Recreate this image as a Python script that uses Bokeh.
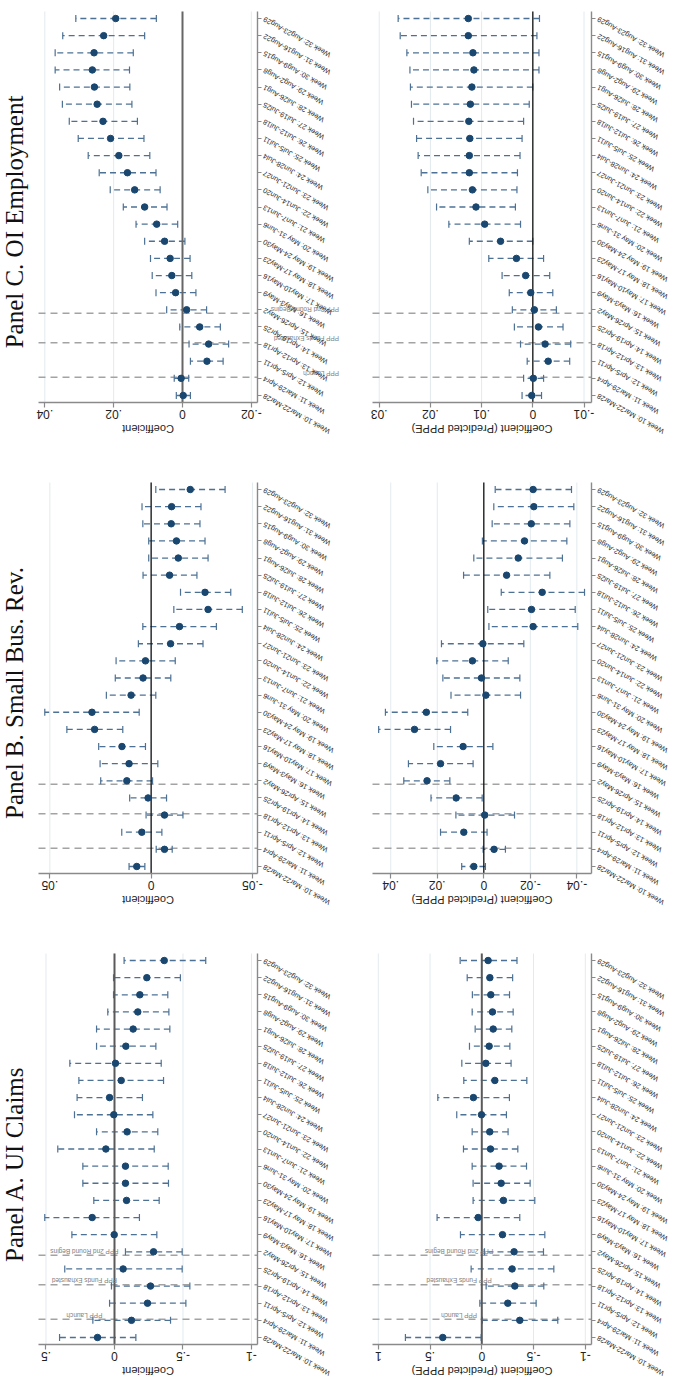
import math
from bokeh.plotting import figure
from bokeh.models import ColumnDataSource, Range1d, FixedTicker, LinearAxis
from bokeh.layouts import column, row
from bokeh.embed import file_html
from bokeh.resources import INLINE
from bokeh.core.properties import value

# ---------------- data ----------------
weeks = list(range(10, 33))
week_labels = [
    "Week 10: Mar22-Mar28", "Week 11: Mar29-Apr4", "Week 12: Apr5-Apr11",
    "Week 13: Apr12-Apr18", "Week 14: Apr19-Apr25", "Week 15: Apr26-May2",
    "Week 16: May3-May9", "Week 17: May10-May16", "Week 18: May 17-May23",
    "Week 19: May 24-May30", "Week 20: May 31-Jun6", "Week 21: Jun7-Jun13",
    "Week 22: Jun14-Jun20", "Week 23: Jun21-Jun27", "Week 24: Jun28-Jul4",
    "Week 25: Jul5-Jul11", "Week 26: Jul12-Jul18", "Week 27: Jul19-Jul25",
    "Week 28: Jul26-Aug1", "Week 29: Aug2-Aug8", "Week 30: Aug9-Aug15",
    "Week 31: Aug16-Aug22", "Week 32: Aug23-Aug29",
]

event_weeks = [11.07, 13.07, 14.8]
event_names = ["PPP Launch", "PPP Funds Exhausted", "PPP 2nd Round Begins"]

# Panel A. UI Claims - Coefficient
a_coef = [0.124, -0.124, -0.241, -0.263, -0.063, -0.285, 0.002, 0.163, -0.088, -0.080,
          -0.080, 0.063, -0.092, 0.005, 0.036, -0.049, -0.007, -0.083, -0.136, -0.170,
          -0.185, -0.236, -0.363]
a_hi = [0.401, 0.158, 0.036, 0.022, 0.363, -0.080, 0.311, 0.509, 0.151, 0.231,
        0.231, 0.414, 0.131, 0.292, 0.273, 0.260, 0.326, 0.131, 0.131, 0.049,
        0.007, 0.007, -0.070]
a_lo = [-0.156, -0.409, -0.521, -0.550, -0.494, -0.494, -0.309, -0.182, -0.326, -0.394,
        -0.392, -0.290, -0.316, -0.280, -0.204, -0.358, -0.341, -0.302, -0.404, -0.397,
        -0.389, -0.481, -0.666]
# Panel A - Coefficient (Predicted PPPE)
ap_coef = [0.377, -0.367, -0.251, -0.319, -0.293, -0.312, -0.200, 0.035, -0.209, -0.187,
           -0.167, -0.084, -0.077, 0.003, 0.081, -0.126, -0.039, -0.071, -0.110, -0.103,
           -0.087, -0.078, -0.061]
ap_hi = [0.738, -0.006, 0.019, -0.042, 0.103, -0.026, 0.206, 0.432, 0.084, 0.084,
         0.093, 0.177, 0.093, 0.242, 0.425, 0.174, 0.193, 0.119, 0.064, 0.093,
         0.091, 0.141, 0.209]
ap_lo = [0.006, -0.734, -0.525, -0.599, -0.696, -0.596, -0.609, -0.367, -0.512, -0.467,
         -0.432, -0.348, -0.254, -0.238, -0.267, -0.435, -0.283, -0.271, -0.290, -0.303,
         -0.268, -0.298, -0.340]

# Panel B. Small Bus. Rev. - Coefficient
b_coef = [0.0071, -0.0066, 0.0046, -0.0066, 0.0015, 0.0120, 0.0109, 0.0144, 0.0279, 0.0292,
          0.0099, 0.0040, 0.0028, -0.0096, -0.0140, -0.0281, -0.0266, -0.0091, -0.0134, -0.0125,
          -0.0099, -0.0101, -0.0193]
b_hi = [0.0109, -0.0025, 0.0145, 0.0025, 0.0106, 0.0249, 0.0252, 0.0259, 0.0416, 0.0525,
        0.0221, 0.0177, 0.0173, 0.0063, 0.0041, -0.0112, -0.0145, 0.0040, 0.0012, 0.0012,
        0.0041, 0.0045, -0.0023]
b_lo = [0.0031, -0.0104, -0.0053, -0.0157, -0.0076, -0.0007, -0.0033, 0.0028, 0.0140, 0.0059,
        -0.0023, -0.0097, -0.0119, -0.0256, -0.0322, -0.0450, -0.0393, -0.0226, -0.0281, -0.0266,
        -0.0241, -0.0246, -0.0365]
# Panel B - Coefficient (Predicted PPPE)
bp_coef = [0.0043, -0.0044, 0.0086, -0.0004, 0.0119, 0.0244, 0.0186, 0.0089, 0.0298, 0.0247,
           -0.0009, 0.0010, 0.0049, 0.0004, -0.0212, -0.0205, -0.0251, -0.0098, -0.0148, -0.0175,
           -0.0204, -0.0215, -0.0212]
bp_hi = [0.0095, 0.0003, 0.0186, 0.0120, 0.0227, 0.0344, 0.0324, 0.0215, 0.0452, 0.0423,
         0.0141, 0.0176, 0.0202, 0.0182, -0.0022, -0.0017, -0.0075, 0.0087, 0.0043, 0.0006,
         -0.0036, -0.0043, -0.0049]
bp_lo = [-0.0007, -0.0093, -0.0014, -0.0132, 0.0007, 0.0146, 0.0046, -0.0039, 0.0143, 0.0069,
         -0.0158, -0.0155, -0.0105, -0.0172, -0.0404, -0.0393, -0.0433, -0.0284, -0.0338, -0.0357,
         -0.0370, -0.0387, -0.0377]

# Panel C. OI Employment - Coefficient
c_coef = [-0.0002, 0.0004, -0.0071, -0.0076, -0.0050, -0.0012, 0.0020, 0.0031, 0.0036, 0.0052,
          0.0075, 0.0110, 0.0139, 0.0160, 0.0185, 0.0209, 0.0231, 0.0248, 0.0256, 0.0262,
          0.0257, 0.0229, 0.0194]
c_hi = [0.0018, 0.0024, -0.0023, -0.0019, 0.0008, 0.0046, 0.0077, 0.0088, 0.0093, 0.0110,
        0.0135, 0.0172, 0.0210, 0.0242, 0.0274, 0.0303, 0.0329, 0.0349, 0.0357, 0.0370,
        0.0370, 0.0348, 0.0310]
c_lo = [-0.0023, -0.0018, -0.0118, -0.0134, -0.0110, -0.0070, -0.0039, -0.0027, -0.0022, -0.0007,
        0.0014, 0.0045, 0.0065, 0.0077, 0.0095, 0.0112, 0.0131, 0.0147, 0.0153, 0.0154,
        0.0143, 0.0110, 0.0076]
# Panel C - Coefficient (Predicted PPPE)
cp_coef = [0.0002, -0.0001, -0.0030, -0.0024, -0.0011, -0.0003, 0.0004, 0.0014, 0.0032, 0.0063,
           0.0094, 0.0111, 0.0118, 0.0124, 0.0124, 0.0123, 0.0125, 0.0122, 0.0119, 0.0115,
           0.0117, 0.0126, 0.0126]
cp_hi = [0.0021, 0.0018, 0.0011, 0.0024, 0.0036, 0.0040, 0.0046, 0.0060, 0.0086, 0.0124,
         0.0164, 0.0188, 0.0205, 0.0218, 0.0224, 0.0227, 0.0233, 0.0237, 0.0239, 0.0240,
         0.0246, 0.0259, 0.0263]
cp_lo = [-0.0017, -0.0021, -0.0072, -0.0074, -0.0059, -0.0046, -0.0039, -0.0033, -0.0021, 0.0000,
         0.0024, 0.0034, 0.0031, 0.0030, 0.0025, 0.0021, 0.0018, 0.0007, 0.0000, -0.0012,
         -0.0012, -0.0008, -0.0013]

a_ticks, a_tick_text = [0.5, 0, -0.5, -1], [".5", "0", "-.5", "-1"]
ap_ticks, ap_tick_text = [1, 0.5, 0, -0.5, -1], ["1", ".5", "0", "-.5", "-1"]
b_ticks, b_tick_text = [0.05, 0, -0.05], [".05", "0", "-.05"]
bp_ticks, bp_tick_text = [0.04, 0.02, 0, -0.02, -0.04], [".04", ".02", "0", "-.02", "-.04"]
c_ticks, c_tick_text = [0.04, 0.02, 0, -0.02], [".04", ".02", "0", "-.02"]
cp_ticks, cp_tick_text = [0.03, 0.02, 0.01, 0, -0.01], [".03", ".02", ".01", "0", "-.01"]

titles = ["Panel A. UI Claims", "Panel B. Small Bus. Rev.", "Panel C. OI Employment"]
xlabels = ["Coefficient", "Coefficient (Predicted PPPE)"]

# ---------------- styling / layout constants ----------------
SANS = "Liberation Sans"
SERIF = "Liberation Serif"
NAVY = "#1a476f"
BAR = "#4d7194"
AXIS = "#8a8a8a"
GRID = "#e2eaee"
EVENT = "#a3a3a3"
Y0, Y1 = 9.59, 32.41          # plotted week range
FRAME_W, FRAME_H = 219, 391   # plot area in px
RIGHT_B = 85
LABEL_ANGLE = math.radians(151)


def make_fig(coef, hi, lo, xs, xe, ticks, tick_text, xlabel, zero_color, zero_width,
             left, top, bottom, title=None, event_x=None, event_align="center"):
    W = left + FRAME_W + RIGHT_B
    H = top + FRAME_H + bottom
    kx = FRAME_W / (xs - xe)        # px per data unit (axis reversed)
    ky = FRAME_H / (Y1 - Y0)        # px per week
    x_left = xs + left / kx
    x_right = xe - RIGHT_B / kx
    y_bot = Y0 - bottom / ky
    y_top = Y1 + top / ky

    p = figure(width=W, height=H, x_range=Range1d(x_left, x_right),
               y_range=Range1d(y_bot, y_top), x_axis_location=None, y_axis_location=None,
               output_backend="svg", toolbar_location=None,
               min_border=0, min_border_left=0, min_border_right=0,
               min_border_top=0, min_border_bottom=0)
    p.outline_line_color = None
    p.grid.visible = False
    p.background_fill_color = "white"
    p.border_fill_color = "white"

    # coefficient axis (bottom of plot area)
    xaxis = LinearAxis(fixed_location=Y0, bounds=(min(xs, xe), max(xs, xe)),
                       ticker=FixedTicker(ticks=ticks),
                       axis_line_color=AXIS, axis_line_width=1.6,
                       major_tick_line_color=AXIS, major_tick_line_width=1.2,
                       major_tick_out=5, major_tick_in=0, minor_tick_line_color=None,
                       major_label_text_color=None)
    p.add_layout(xaxis, "below")
    # week axis (right of plot area)
    yaxis = LinearAxis(fixed_location=xe, bounds=(Y0, Y1), ticker=FixedTicker(ticks=weeks),
                       axis_line_color=AXIS, axis_line_width=1.4,
                       major_tick_line_color=AXIS, major_tick_line_width=1,
                       major_tick_out=4, major_tick_in=0, minor_tick_line_color=None,
                       major_label_text_color=None)
    p.add_layout(yaxis, "right")

    tsrc = ColumnDataSource(dict(t=ticks, txt=tick_text))
    # vertical grid lines inside the plot area
    p.segment(x0="t", y0=Y0, x1="t", y1=Y1, source=tsrc, line_color=GRID, line_width=1)

    # event lines
    p.segment(x0=[xs] * len(event_weeks), y0=event_weeks, x1=[xe] * len(event_weeks),
              y1=event_weeks, line_color=EVENT, line_width=1.5, line_dash="7 5")

    src = ColumnDataSource(dict(week=weeks, coef=coef, hi=hi, lo=lo))
    # confidence intervals
    p.segment(x0="lo", y0="week", x1="hi", y1="week", source=src, line_color=BAR,
              line_width=1.3, line_dash="6 4")
    p.scatter(x="lo", y="week", source=src, marker="dash", angle=math.pi / 2, size=7,
              line_color=BAR, line_width=1.2)
    p.scatter(x="hi", y="week", source=src, marker="dash", angle=math.pi / 2, size=7,
              line_color=BAR, line_width=1.2)

    # zero line
    p.segment(x0=[0], y0=[Y0], x1=[0], y1=[Y1], line_color=zero_color, line_width=zero_width)

    # point estimates
    p.scatter(x="coef", y="week", source=src, size=6.5, color=NAVY)

    if event_x is not None:
        p.text(x=[event_x] * len(event_weeks), y=[e + 4 / ky for e in event_weeks],
               text=event_names, angle=math.pi, text_align=event_align,
               text_baseline="middle", text_font=value(SANS), text_font_size="6.5px",
               text_color="#808080")

    # week labels (upside-down, slanted)
    wsrc = ColumnDataSource(dict(week=weeks, label=week_labels))
    p.text(x=xe - 6 / kx, y="week", text="label", source=wsrc, angle=LABEL_ANGLE,
           text_align="right", text_baseline="middle", text_font=value(SANS),
           text_font_size="7.2px", text_color="#2a2a2a")

    # coefficient tick labels (upside-down)
    p.text(x="t", y=Y0 - 12 / ky, text="txt", source=tsrc, angle=math.pi,
           text_align="center", text_baseline="middle", text_font=value(SANS),
           text_font_size="12px", text_color="#222222")

    # axis title
    p.text(x=[(xs + xe) / 2], y=[Y0 - 26 / ky], text=[xlabel], angle=math.pi,
           text_align="center", text_baseline="middle", text_font=value(SANS),
           text_font_size="11px", text_color="#222222")

    if title:
        p.text(x=[x_left], y=[(Y0 + Y1) / 2 - 15 / ky], text=[title], angle=math.pi / 2,
               text_align="center", text_baseline="top", text_font=value(SERIF),
               text_font_size="25px", text_color="#111111")
    return p


pc1 = make_fig(c_coef, c_hi, c_lo, 0.04184, -0.02179, c_ticks, c_tick_text, xlabels[0],
               "#666666", 2, 38, 11, 77, title=titles[2], event_x=-0.0455, event_align="left")
pc2 = make_fig(cp_coef, cp_hi, cp_lo, 0.03131, -0.01146, cp_ticks, cp_tick_text, xlabels[1],
               "#111111", 1.3, 30, 11, 77)
pb1 = make_fig(b_coef, b_hi, b_lo, 0.0556, -0.0525, b_ticks, b_tick_text, xlabels[0],
               "#111111", 1.3, 38, 3, 77, title=titles[1])
pb2 = make_fig(bp_coef, bp_hi, bp_lo, 0.04785, -0.0463, bp_ticks, bp_tick_text, xlabels[1],
               "#111111", 1.3, 30, 3, 77)
pa1 = make_fig(a_coef, a_hi, a_lo, 0.5547, -1.0438, a_ticks, a_tick_text, xlabels[0],
               "#5a5a5a", 2, 38, 3, 36, title=titles[0], event_x=0.22)
pa2 = make_fig(ap_coef, ap_hi, ap_lo, 1.056, -1.060, ap_ticks, ap_tick_text, xlabels[1],
               "#5a5a5a", 2, 30, 3, 36, event_x=0.22)

layout = column(row(pc1, pc2, spacing=0), row(pb1, pb2, spacing=0),
                row(pa1, pa2, spacing=0), spacing=0)

open("out.html", "w").write(file_html(layout, INLINE))
